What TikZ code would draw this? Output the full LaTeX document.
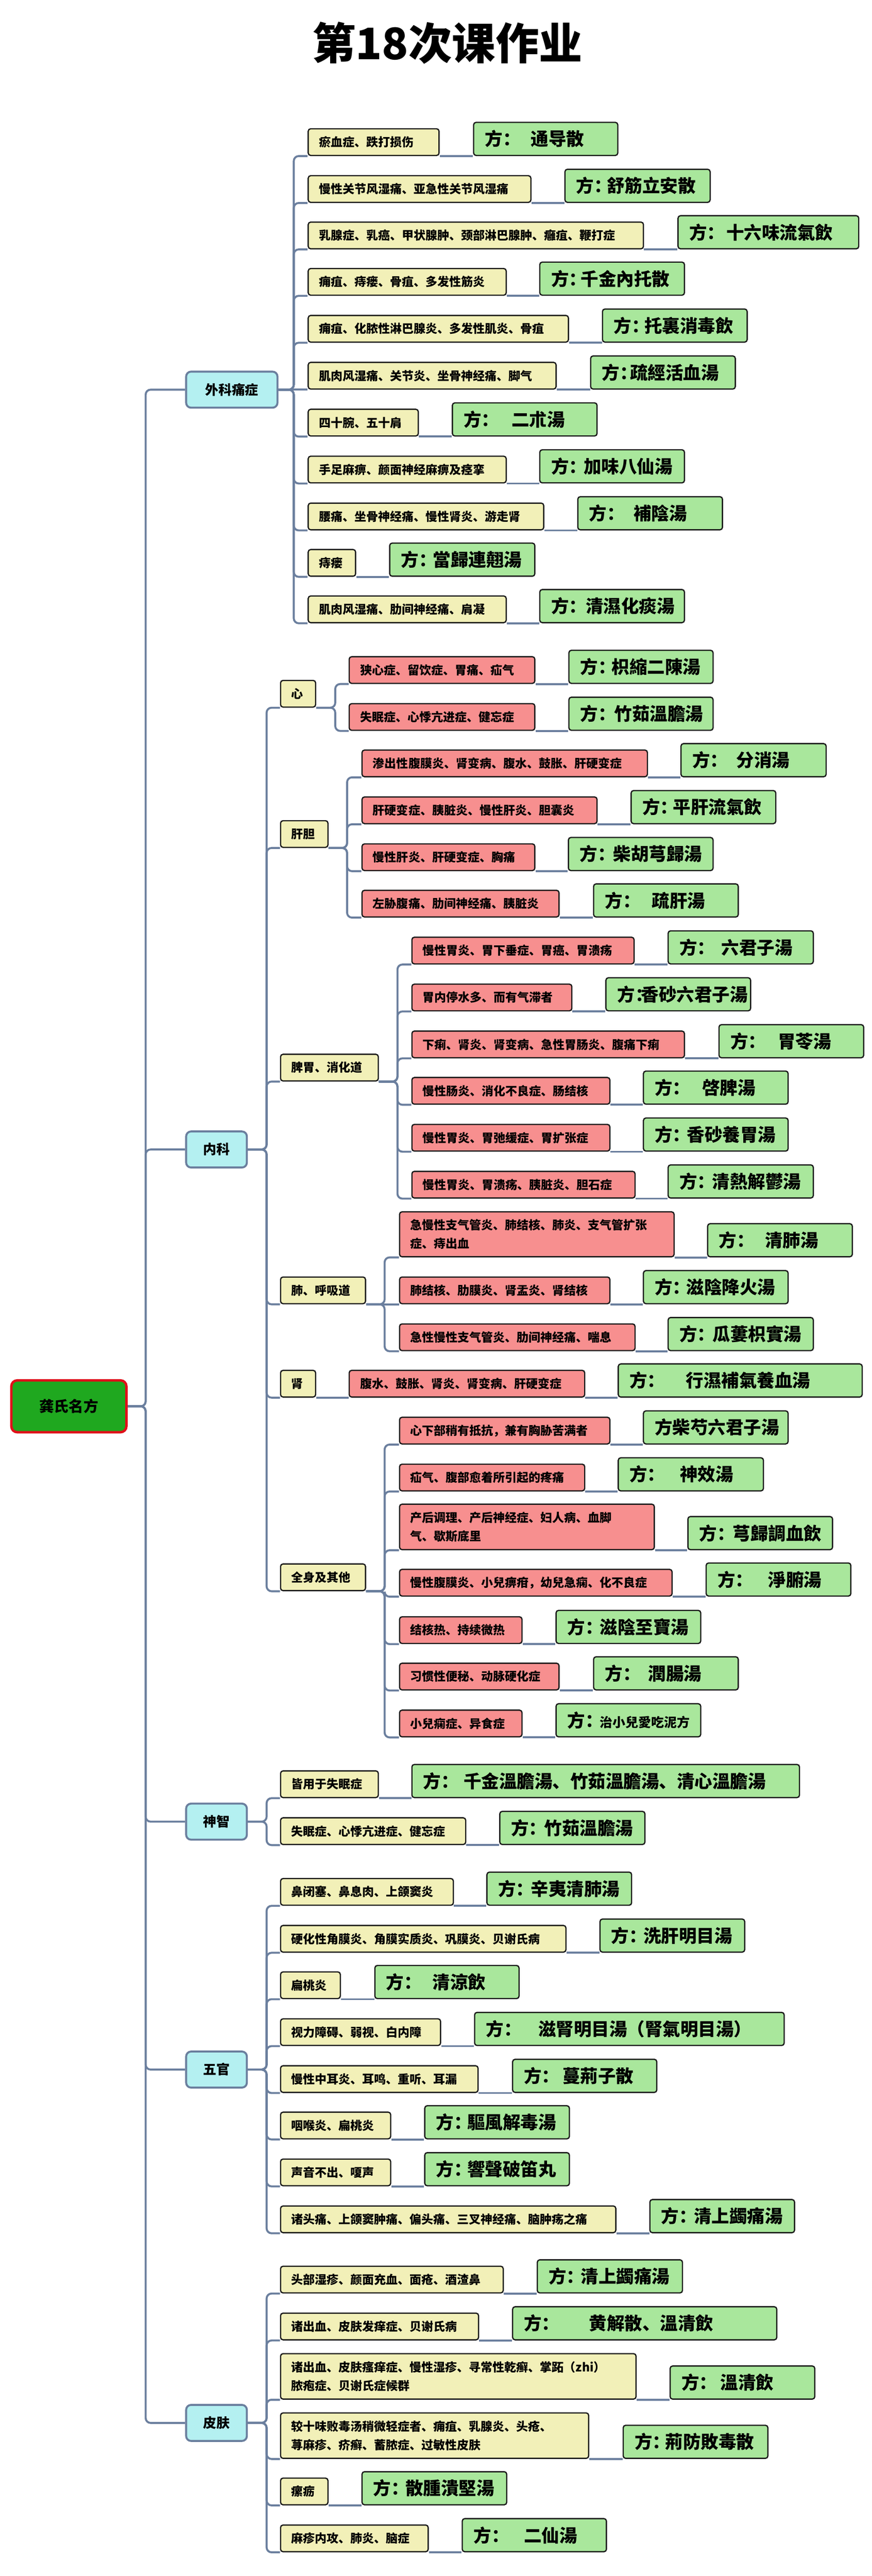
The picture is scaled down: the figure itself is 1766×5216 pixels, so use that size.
\documentclass[tikz,border=0pt]{standalone}
\usepackage{fontspec}
\setmainfont{Noto Sans CJK SC}
\usetikzlibrary{backgrounds}
\definecolor{linec}{HTML}{6B7F9E}
\definecolor{yfill}{HTML}{F2F0B8}
\definecolor{rfill}{HTML}{F78F8F}
\definecolor{gfill}{HTML}{A9E79C}
\definecolor{cfill}{HTML}{B4F0F1}
\definecolor{rootg}{HTML}{1FA81F}
\definecolor{rootr}{HTML}{E0101A}
\newcommand\leaffont{\bfseries\fontsize{24}{38}\selectfont}
\newcommand\grfont{\bfseries\fontsize{36}{44}\selectfont}
\newcommand\fa[2]{方：\hspace{#1pt}#2}
\newcommand\mkleaf[6]{\pgfmathsetmacro\tw{#5-#3-44}\node[#1] (#2) at (#3,#4) {\makebox[\tw pt][l]{#6}};}
\newcommand\mkleafii[6]{\pgfmathsetmacro\tw{#5-#3-44}\node[#1,text width=\tw pt] (#2) at (#3,#4) {#6};}
\newcommand\mkgreen[5]{\pgfmathsetmacro\tw{#4-#2-46}\node[gb] (#1) at (#2,#3) {\makebox[\tw pt][l]{#5}};}
\tikzset{
  conn/.style={draw=linec, line width=4pt, rounded corners=10pt},
  nbox/.style={rectangle, rounded corners=5pt, draw=black!90, line width=2.5pt, inner xsep=22pt, inner ysep=3pt, anchor=south west, align=left},
  yb/.style={nbox, fill=yfill, minimum height=54pt, font=\leaffont},
  rb/.style={nbox, fill=rfill, minimum height=54pt, font=\leaffont},
  gb/.style={nbox, fill=gfill, minimum height=67pt, inner xsep=23pt, font=\grfont},
  lvone/.style={rectangle, rounded corners=10pt, draw=linec, line width=4pt, fill=cfill, minimum height=73pt, minimum width=123pt, anchor=west, font=\bfseries\fontsize{27}{30}\selectfont},
  rootnode/.style={rectangle, rounded corners=12pt, draw=rootr, line width=5pt, fill=rootg, minimum height=105pt, minimum width=233pt, font=\bfseries\fontsize{30}{34}\selectfont}
}
\begin{document}
\begin{tikzpicture}[x=1pt,y=-1pt]
\useasboundingbox (0,0) rectangle (1766,5216);
\begin{scope}[on background layer]
\fill[white] (0,0) rectangle (1766,5216);
\end{scope}
\node[font=\bfseries\fontsize{88}{100}\selectfont] (title) at (906,87) {第18次课作业};
\node[rootnode] (root) at (139.5,2847.5) {龚氏名方};
\node[lvone, minimum width=185pt] (wk) at (375,789) {外科痛症};
\node[lvone] (nk) at (375,2327.5) {内科};
\node[lvone] (sz) at (375,3688.5) {神智};
\node[lvone] (wg) at (375,4190.5) {五官};
\node[lvone] (pf) at (375,4906) {皮肤};
% 外科痛症
\mkleaf{yb}{w1}{623}{316}{888}{瘀血症、跌打损伤}
\mkgreen{gw1}{958}{316}{1250}{\fa{21}{通导散}}
\mkleaf{yb}{w2}{623}{411}{1074}{慢性关节风湿痛、亚急性关节风湿痛}
\mkgreen{gw2}{1143}{411}{1437}{\fa{-10}{舒筋立安散}}
\mkleaf{yb}{w3}{623}{505}{1302}{乳腺症、乳癌、甲状腺肿、颈部淋巴腺肿、癰疽、鞭打症}
\mkgreen{gw3}{1372}{505}{1738}{\fa{3}{十六味流氣飲}}
\mkleaf{yb}{w4}{623}{599}{1024}{痈疽、痔瘘、骨疽、多发性筋炎}
\mkgreen{gw4}{1092}{599}{1385}{\fa{-12}{千金內托散}}
\mkleaf{yb}{w5}{623}{694}{1150}{痈疽、化脓性淋巴腺炎、多发性肌炎、骨疽}
\mkgreen{gw5}{1219}{694}{1512}{\fa{-10}{托裏消毒飲}}
\mkleaf{yb}{w6}{623}{789}{1125}{肌肉风湿痛、关节炎、坐骨神经痛、脚气}
\mkgreen{gw6}{1195}{789}{1488}{\fa{-15}{疏經活血湯}}
\mkleaf{yb}{w7}{623}{884}{846}{四十腕、五十肩}
\mkgreen{gw7}{915}{884}{1208}{\fa{25}{二朮湯}}
\mkleaf{yb}{w8}{623}{979}{1024}{手足麻痹、颜面神经麻痹及痉挛}
\mkgreen{gw8}{1092}{979}{1385}{\fa{-6}{加味八仙湯}}
\mkleaf{yb}{w9}{623}{1074}{1100}{腰痛、坐骨神经痛、慢性肾炎、游走肾}
\mkgreen{gw9}{1169}{1074}{1462}{\fa{18}{補陰湯}}
\mkleaf{yb}{w10}{623}{1168}{719}{痔瘘}
\mkgreen{gw10}{788}{1168}{1082}{\fa{-7}{當歸連翹湯}}
\mkleaf{yb}{w11}{623}{1262}{1024}{肌肉风湿痛、肋间神经痛、肩凝}
\mkgreen{gw11}{1092}{1262}{1385}{\fa{-2}{清濕化痰湯}}
% 内科 level 2
\mkleaf{yb}{x1}{567}{1433}{638}{心}
\mkleaf{yb}{x2}{567}{1717}{663}{肝胆}
\mkleaf{yb}{x3}{567}{2190}{765}{脾胃、消化道}
\mkleaf{yb}{x4}{567}{2641}{739}{肺、呼吸道}
\mkleaf{yb}{x5}{567}{2830}{638}{肾}
\mkleaf{yb}{x6}{567}{3222}{739}{全身及其他}
% 心
\mkleaf{rb}{h1}{706}{1385}{1082}{狭心症、留饮症、胃痛、疝气}
\mkgreen{gh1}{1151}{1385}{1443}{\fa{-8}{枳縮二陳湯}}
\mkleaf{rb}{h2}{706}{1480}{1082}{失眠症、心悸亢进症、健忘症}
\mkgreen{gh2}{1151}{1480}{1443}{\fa{-3}{竹茹溫膽湯}}
% 肝胆
\mkleaf{rb}{g1}{732}{1574}{1310}{渗出性腹膜炎、肾变病、腹水、鼓胀、肝硬变症}
\mkgreen{gg1}{1378}{1574}{1672}{\fa{17}{分消湯}}
\mkleaf{rb}{g2}{732}{1669}{1208}{肝硬变症、胰脏炎、慢性肝炎、胆囊炎}
\mkgreen{gg2}{1277}{1669}{1570}{\fa{-10}{平肝流氣飲}}
\mkleaf{rb}{g3}{732}{1764}{1082}{慢性肝炎、肝硬变症、胸痛}
\mkgreen{gg3}{1150}{1764}{1443}{\fa{-4}{柴胡芎歸湯}}
\mkleaf{rb}{g4}{732}{1858}{1131}{左胁腹痛、肋间神经痛、胰脏炎}
\mkgreen{gg4}{1201}{1858}{1494}{\fa{23}{疏肝湯}}
% 脾胃
\mkleaf{rb}{p1}{833}{1953}{1283}{慢性胃炎、胃下垂症、胃癌、胃溃疡}
\mkgreen{gp1}{1352}{1953}{1646}{\fa{13}{六君子湯}}
\mkleaf{rb}{p2}{833}{2048}{1157}{胃内停水多、而有气滞者}
\mkgreen{gp2}{1226}{2048}{1519}{\fa{-24}{香砂六君子湯}}
\mkleaf{rb}{p3}{833}{2143}{1385}{下痢、肾炎、肾变病、急性胃肠炎、腹痛下痢}
\mkgreen{gp3}{1455}{2143}{1748}{\fa{24}{胃苓湯}}
\mkleaf{rb}{p4}{833}{2237}{1234}{慢性肠炎、消化不良症、肠结核}
\mkgreen{gp4}{1302}{2237}{1595}{\fa{24}{啓脾湯}}
\mkleaf{rb}{p5}{833}{2332}{1234}{慢性胃炎、胃弛缓症、胃扩张症}
\mkgreen{gp5}{1302}{2332}{1595}{\fa{-7}{香砂養胃湯}}
\mkleaf{rb}{p6}{833}{2427}{1285}{慢性胃炎、胃溃疡、胰脏炎、胆石症}
\mkgreen{gp6}{1352}{2427}{1646}{\fa{-6}{清熱解鬱湯}}
% 肺
\mkleafii{rb,minimum height=91pt}{f1}{808}{2546}{1364}{急慢性支气管炎、肺结核、肺炎、支气管扩张\\症、痔出血}
\mkgreen{gf1}{1432}{2546}{1725}{\fa{21}{清肺湯}}
\mkleaf{rb}{f2}{808}{2641}{1234}{肺结核、肋膜炎、肾盂炎、肾结核}
\mkgreen{gf2}{1302}{2641}{1595}{\fa{-8}{滋陰降火湯}}
\mkleaf{rb}{f3}{808}{2736}{1285}{急性慢性支气管炎、肋间神经痛、喘息}
\mkgreen{gf3}{1352}{2736}{1646}{\fa{-5}{瓜蔞枳實湯}}
% 肾
\mkleaf{rb}{s1}{706}{2830}{1183}{腹水、鼓胀、肾炎、肾变病、肝硬变症}
\mkgreen{gs1}{1251}{2830}{1745}{\fa{42}{行濕補氣養血湯}}
% 全身及其他
\mkleaf{rb}{q1}{808}{2925}{1234}{心下部稍有抵抗，兼有胸胁苦满者}
\mkgreen{gq1}{1302}{2925}{1595}{方柴芍六君子湯}
\mkleaf{rb}{q2}{808}{3020}{1183}{疝气、腹部愈着所引起的疼痛}
\mkgreen{gq2}{1251}{3020}{1545}{\fa{30}{神效湯}}
\mkleafii{rb,minimum height=92pt}{q3}{808}{3139}{1324}{产后调理、产后神经症、妇人病、血脚\\气、歇斯底里}
\mkgreen{gq3}{1392}{3139}{1685}{\fa{-4}{芎歸調血飲}}
\mkleaf{rb}{q4}{808}{3233}{1360}{慢性腹膜炎、小兒痹疳，幼兒急痫、化不良症}
\mkgreen{gq4}{1429}{3233}{1722}{\fa{31}{淨腑湯}}
\mkleaf{rb}{q5}{808}{3329}{1056}{结核热、持续微热}
\mkgreen{gq5}{1125}{3329}{1418}{\fa{-6}{滋陰至寶湯}}
\mkleaf{rb}{q6}{808}{3423}{1131}{习惯性便秘、动脉硬化症}
\mkgreen{gq6}{1201}{3423}{1494}{\fa{16}{潤腸湯}}
\mkleaf{rb}{q7}{808}{3518}{1056}{小兒痫症、异食症}
\mkgreen{gq7}{1125}{3518}{1418}{\fa{-6}{{\fontsize{26}{30}\selectfont 治小兒愛吃泥方}}}
% 神智
\mkleaf{yb}{z1}{567}{3641}{765}{皆用于失眠症}
\mkgreen{gz1}{833}{3641}{1618}{\fa{10}{千金溫膽湯、竹茹溫膽湯、清心溫膽湯}}
\mkleaf{yb}{z2}{567}{3736}{942}{失眠症、心悸亢进症、健忘症}
\mkgreen{gz2}{1011}{3736}{1305}{\fa{-5}{竹茹溫膽湯}}
% 五官
\mkleaf{yb}{o1}{567}{3859}{917}{鼻闭塞、鼻息肉、上颌窦炎}
\mkgreen{go1}{985}{3859}{1278}{\fa{-6}{辛夷清肺湯}}
\mkleaf{yb}{o2}{567}{3954}{1145}{硬化性角膜炎、角膜实质炎、巩膜炎、贝谢氏病}
\mkgreen{go2}{1214}{3954}{1507}{\fa{-7}{洗肝明目湯}}
\mkleaf{yb}{o3}{567}{4048}{688}{扁桃炎}
\mkgreen{go3}{758}{4048}{1050}{\fa{22}{清涼飲}}
\mkleaf{yb}{o4}{567}{4143}{891}{视力障碍、弱视、白内障}
\mkgreen{go4}{960}{4143}{1587}{\fa{34}{滋腎明目湯（腎氣明目湯）}}
\mkleaf{yb}{o5}{567}{4238}{967}{慢性中耳炎、耳鸣、重听、耳漏}
\mkgreen{go5}{1037}{4238}{1329}{\fa{6}{蔓荊子散}}
\mkleaf{yb}{o6}{567}{4332}{790}{咽喉炎、扁桃炎}
\mkgreen{go6}{859}{4332}{1152}{\fa{-9}{驅風解毒湯}}
\mkleaf{yb}{o7}{567}{4427}{790}{声音不出、嗄声}
\mkgreen{go7}{859}{4427}{1152}{\fa{-9}{響聲破笛丸}}
\mkleaf{yb}{o8}{567}{4522}{1246}{诸头痛、上颌窦肿痛、偏头痛、三叉神经痛、脑肿疡之痛}
\mkgreen{go8}{1315}{4522}{1608}{\fa{-6}{清上蠲痛湯}}
% 皮肤
\mkleaf{yb}{k1}{567}{4644}{1018}{头部湿疹、颜面充血、面疮、酒渣鼻}
\mkgreen{gk1}{1087}{4644}{1381}{\fa{-7}{清上蠲痛湯}}
\mkleaf{yb}{k2}{567}{4739}{968}{诸出血、皮肤发痒症、贝谢氏病}
\mkgreen{gk2}{1037}{4739}{1572}{\fa{60}{黄解散、溫清飲}}
\mkleafii{yb,minimum height=92pt}{k3}{567}{4859}{1287}{诸出血、皮肤瘙痒症、慢性湿疹、寻常性乾癣、掌跖（zhi）\\脓疱症、贝谢氏症候群}
\mkgreen{gk3}{1356}{4859}{1649}{\fa{7}{溫清飲}}
\mkleafii{yb,minimum height=92pt}{k4}{567}{4979}{1191}{较十味败毒汤稍微轻症者、痈疽、乳腺炎、头疮、\\荨麻疹、疥癣、蓄脓症、过敏性皮肤}
\mkgreen{gk4}{1261}{4979}{1554}{\fa{-10}{荊防敗毒散}}
\mkleaf{yb}{k5}{567}{5073}{663}{瘰疬}
\mkgreen{gk5}{732}{5073}{1025}{\fa{-7}{散腫潰堅湯}}
\mkleaf{yb}{k6}{567}{5168}{866}{麻疹内攻、肺炎、脑症}
\mkgreen{gk6}{935}{5168}{1227}{\fa{30}{二仙湯}}
% connectors
\begin{scope}[on background layer]
\coordinate (t0) at (295,0);
\coordinate (t1) at (595,0);
\coordinate (t2) at (540,0);
\coordinate (th) at (679,0);
\coordinate (tg) at (703,0);
\coordinate (tp) at (805,0);
\coordinate (tf) at (779,0);
\foreach \n in {wk,nk,sz,wg,pf}
  \draw[conn] (root.east) -- (root.east -| t0) -- (\n.west -| t0) -- (\n.west);
\foreach \i in {1,2,3,4,5,7,8,9,10,11}
  \draw[conn] (wk.east) -- (wk.east -| t1) -- (w\i.south west -| t1) -- (w\i.south west);
\draw[conn] (wk.east) -- (w6.south west);
\foreach \i in {1,...,11}
  \draw[conn] (w\i.south east) -- (gw\i.south west);
\foreach \i in {1,...,6}
  \draw[conn] (nk.east) -- (nk.east -| t2) -- (x\i.south west -| t2) -- (x\i.south west);
\foreach \i in {1,2}
  \draw[conn] (sz.east) -- (sz.east -| t2) -- (z\i.south west -| t2) -- (z\i.south west);
\foreach \i in {1,...,8}
  \draw[conn] (wg.east) -- (wg.east -| t2) -- (o\i.south west -| t2) -- (o\i.south west);
\foreach \i in {1,...,6}
  \draw[conn] (pf.east) -- (pf.east -| t2) -- (k\i.south west -| t2) -- (k\i.south west);
\foreach \i in {1,2}
  \draw[conn] (x1.south east) -- (x1.south east -| th) -- (h\i.south west -| th) -- (h\i.south west);
\foreach \i in {1,...,4}
  \draw[conn] (x2.south east) -- (x2.south east -| tg) -- (g\i.south west -| tg) -- (g\i.south west);
\foreach \i in {1,...,6}
  \draw[conn] (x3.south east) -- (x3.south east -| tp) -- (p\i.south west -| tp) -- (p\i.south west);
\foreach \i in {1,3}
  \draw[conn] (x4.south east) -- (x4.south east -| tf) -- (f\i.south west -| tf) -- (f\i.south west);
\draw[conn] (x4.south east) -- (f2.south west);
\draw[conn] (x5.south east) -- (s1.south west);
\foreach \i in {1,...,7}
  \draw[conn] (x6.south east) -- (x6.south east -| tf) -- (q\i.south west -| tf) -- (q\i.south west);
\foreach \n in {h1,h2,g1,g2,g3,g4,p1,p2,p3,p4,p5,p6,f1,f2,f3,s1,q1,q2,q3,q4,q5,q6,q7,z1,z2,o1,o2,o3,o4,o5,o6,o7,o8,k1,k2,k3,k4,k5,k6}
  \draw[conn] (\n.south east) -- (g\n.south west);
\end{scope}
\end{tikzpicture}
\end{document}
